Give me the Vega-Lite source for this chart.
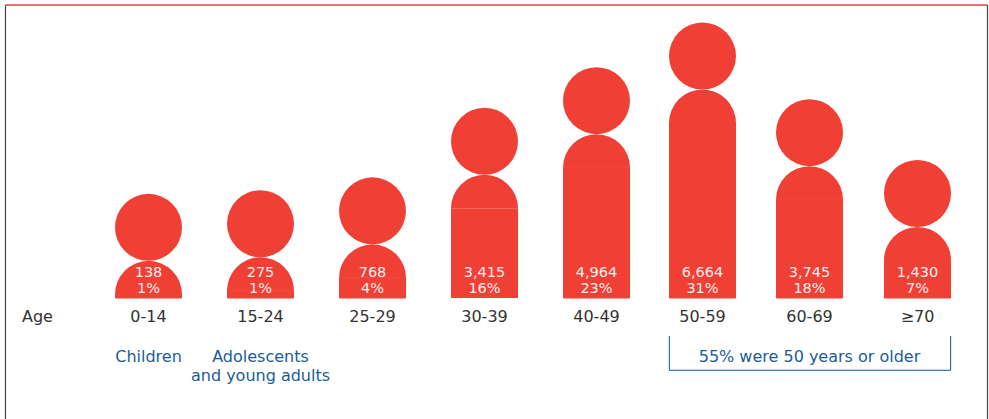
{
"$schema":"https://vega.github.io/schema/vega-lite/v6.json",
"width":989,"height":419,"padding":0,"autosize":{"type":"none"},"background":"white",
"view":{"stroke":null},
"config":{"text":{"font":"DejaVu Sans"}},
"data":{"values":[
{"age":"0-14","idx":0,"count":138,"share":0.01},
{"age":"15-24","idx":1,"count":275,"share":0.01},
{"age":"25-29","idx":2,"count":768,"share":0.04},
{"age":"30-39","idx":3,"count":3415,"share":0.16},
{"age":"40-49","idx":4,"count":4964,"share":0.23},
{"age":"50-59","idx":5,"count":6664,"share":0.31},
{"age":"60-69","idx":6,"count":3745,"share":0.18},
{"age":"≥70","idx":7,"count":1430,"share":0.07}
]},
"layer":[
{"mark":{"type":"arc","theta":-1.5708,"theta2":1.5708,"outerRadius":33.5,"innerRadius":0,"color":"#f04035"},
 "encoding":{
  "x":{"field":"idx","type":"quantitative","axis":null,"scale":{"domain":[0,4,5,6,7],"range":[148.5,596.5,702.5,809.5,917.5],"nice":false,"zero":false,"padding":0}},
  "y":{"field":"count","type":"quantitative","axis":null,"scale":{"domain":[-4608,11348],"range":[419,0],"nice":false,"zero":false}}}},
{"transform":[{"filter":"datum.idx!=3"}],
 "mark":{"type":"bar","orient":"vertical","width":66,"color":"#f04035","stroke":"#f04035","strokeWidth":1},
 "encoding":{"x":{"field":"idx","type":"quantitative"},"y":{"field":"count","type":"quantitative"},"y2":{"datum":0}}},
{"transform":[{"filter":"datum.idx==3"}],
 "mark":{"type":"bar","orient":"vertical","width":67,"color":"#f04035"},
 "encoding":{"x":{"field":"idx","type":"quantitative"},"y":{"field":"count","type":"quantitative"},"y2":{"datum":0}}},
{"mark":{"type":"circle","size":4489,"opacity":1,"color":"#f04035","yOffset":-67},
 "encoding":{"x":{"field":"idx","type":"quantitative"},"y":{"field":"count","type":"quantitative"}}},
{"mark":{"type":"text","fontSize":14.5,"color":"#fff","opacity":0.92,"baseline":"alphabetic","align":"center"},
 "encoding":{"x":{"field":"idx","type":"quantitative"},"y":{"datum":788},"text":{"field":"count","type":"quantitative","format":","}}},
{"mark":{"type":"text","fontSize":14.5,"color":"#fff","opacity":0.92,"baseline":"alphabetic","align":"center"},
 "encoding":{"x":{"field":"idx","type":"quantitative"},"y":{"datum":179},"text":{"field":"share","type":"quantitative","format":".0%"}}},
{"mark":{"type":"text","fontSize":16,"color":"#333333","baseline":"alphabetic","align":"center"},
 "encoding":{"x":{"field":"idx","type":"quantitative"},"y":{"datum":-902},"text":{"field":"age","type":"nominal"}}},
{"data":{"values":[{"t":"Age"}]},
 "mark":{"type":"text","fontSize":16,"color":"#333333","baseline":"alphabetic","align":"left"},
 "encoding":{"x":{"datum":-1.13},"y":{"datum":-902},"text":{"field":"t","type":"nominal"}}},
{"data":{"values":[{"t":"Children","i":0},{"t":"Adolescents","i":1},{"t":"55% were 50 years or older","i":6}]},
 "mark":{"type":"text","fontSize":16,"color":"#1b5c98","baseline":"alphabetic","align":"center"},
 "encoding":{"x":{"field":"i","type":"quantitative"},"y":{"datum":-2437},"text":{"field":"t","type":"nominal"}}},
{"data":{"values":[{"t":"and young adults","i":1}]},
 "mark":{"type":"text","fontSize":16,"color":"#1b5c98","baseline":"alphabetic","align":"center"},
 "encoding":{"x":{"field":"i","type":"quantitative"},"y":{"datum":-3161},"text":{"field":"t","type":"nominal"}}},
{"data":{"values":[{"i":4.687,"v":-1447,"o":1},{"i":4.687,"v":-2753,"o":2},{"i":7.307,"v":-2753,"o":3},{"i":7.307,"v":-1447,"o":4}]},
 "mark":{"type":"line","color":"#0f5596","strokeWidth":1},
 "encoding":{"x":{"field":"i","type":"quantitative"},"y":{"field":"v","type":"quantitative"},"order":{"field":"o","type":"quantitative"}}},
{"mark":{"type":"rule","color":"#444444","strokeWidth":1.2},"data":{"values":[{"i":-1.277},{"i":7.648}]},
 "encoding":{"x":{"field":"i","type":"quantitative"},"y":{"datum":11158},"y2":{"datum":-4608}}},
{"mark":{"type":"rule","color":"#e8403a","strokeWidth":1.6},"data":{"values":[{"a":-1.277,"b":7.648}]},
 "encoding":{"x":{"field":"a","type":"quantitative"},"x2":{"field":"b"},"y":{"datum":11158}}}
]
}
